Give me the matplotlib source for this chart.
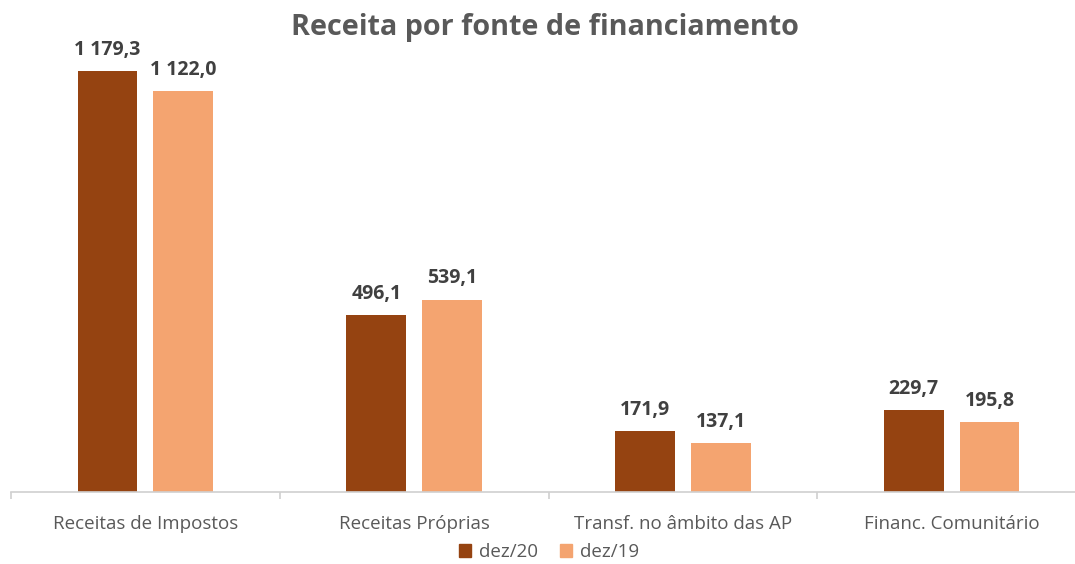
import matplotlib
matplotlib.use("Agg")
import matplotlib.pyplot as plt
import numpy as np
from matplotlib.patches import Patch

categories = ["Receitas de Impostos", "Receitas Próprias", "Transf. no âmbito das AP", "Financ. Comunitário"]
dez20 = [1179.3, 496.1, 171.9, 229.7]
dez19 = [1122.0, 539.1, 137.1, 195.8]
series_names = ["dez/20", "dez/19"]

def fmt(v):
    s = f"{v:,.1f}"
    return s.replace(",", " ").replace(".", ",")

plt.rcParams['font.family'] = ['Open Sans', 'DejaVu Sans']
c_dark = "#954311"
c_light = "#F4A470"

fig = plt.figure(figsize=(10.75, 5.64), dpi=100)
ax = fig.add_axes([11/1075, 72/564, 1075/1075, 0.80])
x = np.arange(len(categories))
w = 0.223
off = 0.141
b1 = ax.bar(x - off, dez20, w, color=c_dark)
b2 = ax.bar(x + off, dez19, w, color=c_light)
px_per_unit = 421/1179.3
ax.set_ylim(0, 0.80*564/px_per_unit)
ax.set_xlim(-0.5, len(categories)-0.5)
for bars, vals in ((b1, dez20), (b2, dez19)):
    for r, v in zip(bars, vals):
        ax.annotate(fmt(v), (r.get_x()+r.get_width()/2, v), xytext=(0, 8), textcoords="offset points",
                    ha="center", va="bottom", fontsize=14, fontweight="bold", color="#404040")
for s in ["top", "right", "left"]:
    ax.spines[s].set_visible(False)
ax.spines["bottom"].set_color("#D0D0D0")
ax.spines["bottom"].set_linewidth(1.2)
ax.set_yticks([])
ax.set_xticks(np.arange(-0.5, len(categories), 1), minor=False)
ax.set_xticklabels([])
ax.tick_params(axis="x", length=5, color="#D0D0D0", width=1.2, direction="out")
for i, c in enumerate(categories):
    ax.text(i, -0.05, c, transform=ax.get_xaxis_transform(), ha="center", va="top", fontsize=13.5, color="#595959")
fig.text(545/1075, 1 - 28/564, "Receita por fonte de financiamento", ha="center", va="center", fontsize=20.7, fontweight="bold", color="#595959")
handles = [Patch(color=c_dark), Patch(color=c_light)]
fig.legend(handles, series_names, loc="center", bbox_to_anchor=(549/1075, 1 - 552/564), ncol=2, frameon=False,
           fontsize=13.5, labelcolor="#595959", handlelength=0.65, handleheight=0.65, handletextpad=0.4, columnspacing=1.2)
fig.savefig("out.png", dpi=100)
